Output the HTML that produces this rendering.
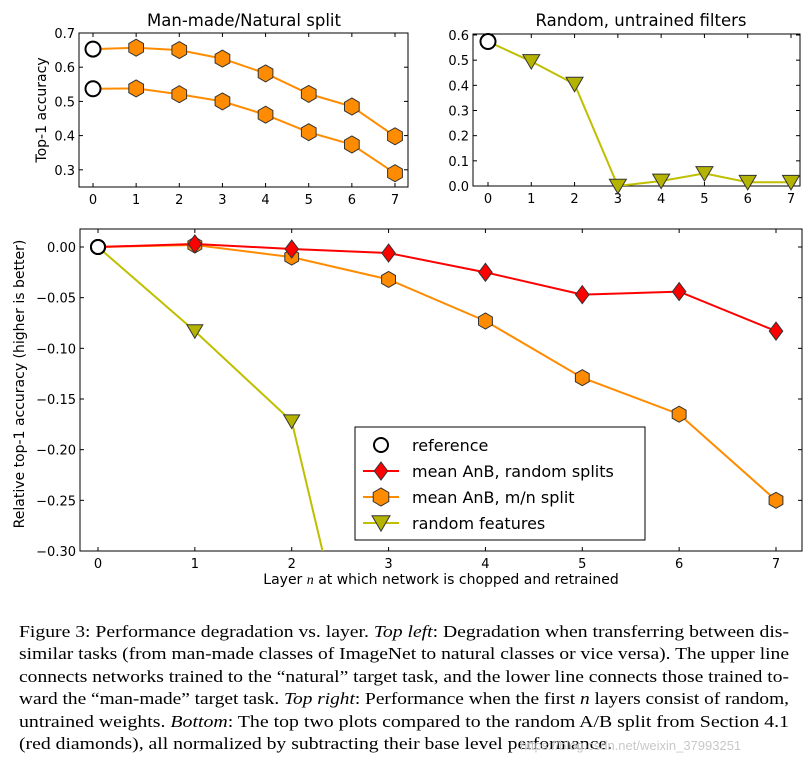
<!DOCTYPE html>
<html><head><meta charset="utf-8">
<style>
body{margin:0;background:#fff;width:808px;height:761px;overflow:hidden;}
svg text{font-family:"DejaVu Sans","Liberation Sans",sans-serif;}
#caption{position:absolute;left:19px;top:621px;width:770px;font-family:"Liberation Serif",serif;font-size:17.2px;line-height:22.4px;color:#000;}
#caption span.ln{display:block;width:max-content;white-space:nowrap;height:22.4px;transform-origin:0 0;}
</style></head><body>
<svg id="fig" width="808" height="610" style="position:absolute;left:0;top:0"></svg>
<div id="caption">
<span class="ln">Figure 3: Performance degradation vs. layer. <i>Top left</i>: Degradation when transferring between dis-</span>
<span class="ln">similar tasks (from man-made classes of ImageNet to natural classes or vice versa). The upper line</span>
<span class="ln">connects networks trained to the “natural” target task, and the lower line connects those trained to-</span>
<span class="ln">ward the “man-made” target task. <i>Top right</i>: Performance when the first <i>n</i> layers consist of random,</span>
<span class="ln">untrained weights. <i>Bottom</i>: The top two plots compared to the random A/B split from Section 4.1</span>
<span class="ln last">(red diamonds), all normalized by subtracting their base level performance.</span>
</div>
<div style="position:absolute;left:520px;top:738px;font-family:'Liberation Sans',sans-serif;font-size:13px;color:#c8c8c8">https://blog.csdn.net/weixin_37993251</div>
<script>
document.querySelectorAll('#caption span.ln').forEach(s=>{
  const w=s.getBoundingClientRect().width;
  const k=s.classList.contains('last')?593/w:770/w;
  s.style.transform='scaleX('+k+')';
});
const layers=[0,1,2,3,4,5,6,7];
const tlUpper=[0.653,0.657,0.650,0.625,0.582,0.522,0.485,0.398];
const tlLower=[0.537,0.538,0.521,0.500,0.461,0.410,0.374,0.290];
const tlTicks=[0.3,0.4,0.5,0.6,0.7];
const trRandom=[0.574,0.495,0.405,0.0,0.02,0.05,0.015,0.015];
const trTicks=[0.0,0.1,0.2,0.3,0.4,0.5,0.6];
const bRed=[0,0.003,-0.002,-0.006,-0.025,-0.047,-0.044,-0.083];
const bOrange=[0,0.002,-0.010,-0.032,-0.073,-0.129,-0.165,-0.250];
const bYellow=[0,-0.083,-0.172,-0.574,-0.554,-0.524,-0.559,-0.559];
const bTicks=[0.00,-0.05,-0.10,-0.15,-0.20,-0.25,-0.30];
const legendLabels=["reference","mean AnB, random splits","mean AnB, m/n split","random features"];

const NS="http://www.w3.org/2000/svg";
const svg=document.getElementById('fig');
function el(tag,attrs,parent){const e=document.createElementNS(NS,tag);for(const k in attrs)e.setAttribute(k,attrs[k]);(parent||svg).appendChild(e);return e;}
const OR="#ff8c00",RED="#ff0000",YL="#bfbf00";
function marker(g,type,x,y,r){
  let m;
  if(type==='circle'){m=el('circle',{cx:x,cy:y,r:r,fill:'#fff',stroke:'#000','stroke-width':2},g);}
  else if(type==='hex'){let p=[];for(let i=0;i<6;i++){const a=Math.PI/6+i*Math.PI/3;p.push((x+r*Math.cos(a)).toFixed(1)+','+(y+r*Math.sin(a)).toFixed(1));}
    m=el('polygon',{points:p.join(' '),fill:OR,stroke:'#333','stroke-width':1},g);}
  else if(type==='diamond'){m=el('polygon',{points:`${x},${y-r} ${x+r*0.75},${y} ${x},${y+r} ${x-r*0.75},${y}`,fill:RED,stroke:'#333','stroke-width':1},g);}
  else {m=el('polygon',{points:`${x-r},${y-r*0.8} ${x+r},${y-r*0.8} ${x},${y+r*0.9}`,fill:'#b3b300',stroke:'#333','stroke-width':1},g);}
  
  
  return m;
}
function axesBox(name,L,T,R,B,xs,ys,yTicks,fmt,xTicks){
  const g=el('g',{});
  
  
  const clip=el('clipPath',{id:name+'-clip'},g);el('rect',{x:L,y:T,width:R-L,height:B-T},clip);
  el('rect',{x:L,y:T,width:R-L,height:B-T,fill:'none',stroke:'#000','stroke-width':1},g);
  xTicks.forEach(v=>{const x=xs(v);
    el('line',{x1:x,y1:B,x2:x,y2:B-4,stroke:'#000'},g);el('line',{x1:x,y1:T,x2:x,y2:T+4,stroke:'#000'},g);
    const t=el('text',{x:x,y:B+17,'text-anchor':'middle','font-size':13},g);t.textContent=v;
    });
  yTicks.forEach(v=>{const y=ys(v);
    el('line',{x1:L,y1:y,x2:L+4,y2:y,stroke:'#000'},g);el('line',{x1:R,y1:y,x2:R-4,y2:y,stroke:'#000'},g);
    const t=el('text',{x:L-4,y:y+5,'text-anchor':'end','font-size':13},g);t.textContent=fmt(v);
    });
  return g;
}
function series(g,clipId,xs,ys,xv,yv,color,type,r,skipFirst,refR){
  const pts=xv.map((v,i)=>xs(v)+','+ys(yv[i])).join(' ');
  const pl=el('polyline',{points:pts,fill:'none',stroke:color,'stroke-width':2,'clip-path':`url(#${clipId})`},g);
  
  
  xv.forEach((v,i)=>{const x=xs(v),y=ys(yv[i]);
    if(i===0&&skipFirst){marker(g,'circle',x,y,refR);return;}
    if(y>=0&&y<=700&&(!clipId.startsWith('bottom')||y<=552))marker(g,type,x,y,r);});
}
// Top-left
{const L=79,T=33,R=408,B=187;const xs=v=>93+v*(395-93)/7;const ys=v=>33+(0.7-v)*342;
 const g=axesBox('top-left-plot',L,T,R,B,xs,ys,tlTicks,v=>v.toFixed(1),layers);
 series(g,'top-left-plot-clip',xs,ys,layers,tlUpper,OR,'hex',8.5,true,7.5);
 series(g,'top-left-plot-clip',xs,ys,layers,tlLower,OR,'hex',8.5,true,7.5);
 const t=el('text',{x:244,y:26,'text-anchor':'middle','font-size':16.5},g);t.textContent='Man-made/Natural split';
 const yl=el('text',{x:0,y:0,'text-anchor':'middle','font-size':14,transform:'translate(46,110) rotate(-90)'},g);yl.textContent='Top-1 accuracy';}
// Top-right
{const L=473,T=34,R=800,B=186;const xs=v=>488+v*(791-488)/7;const ys=v=>186-v*(186-35)/0.6;
 const g=axesBox('top-right-plot',L,T,R,B,xs,ys,trTicks,v=>v.toFixed(1),layers);
 series(g,'top-right-plot-clip',xs,ys,layers,trRandom,YL,'tri',8.5,true,7.5);
 const t=el('text',{x:641,y:26,'text-anchor':'middle','font-size':16.5},g);t.textContent='Random, untrained filters';}
// Bottom
{const L=80,T=229,R=802,B=551;const xs=v=>98+v*(776-98)/7;const ys=v=>247+(-v)*(551-247)/0.3;
 const g=axesBox('bottom-plot',L,T,R,B,xs,ys,bTicks,v=>(v<0?'\u22120':'0')+Math.abs(v).toFixed(2).slice(1),layers);
 series(g,'bottom-plot-clip',xs,ys,layers,bYellow,YL,'tri',8,true,7);
 series(g,'bottom-plot-clip',xs,ys,layers,bOrange,OR,'hex',8,true,7);
 series(g,'bottom-plot-clip',xs,ys,layers,bRed,RED,'diamond',9,true,7);
 marker(g,'circle',xs(0),ys(0),7);
 const xl=el('text',{x:441,y:584,'text-anchor':'middle','font-size':14},g);xl.innerHTML='Layer <tspan font-style="italic" font-family="Liberation Serif">n</tspan> at which network is chopped and retrained';
 const yl=el('text',{x:0,y:0,'text-anchor':'middle','font-size':14,transform:'translate(24,384) rotate(-90)'},g);yl.textContent='Relative top-1 accuracy (higher is better)';
 const lg=el('g',{},g);
 el('rect',{x:355,y:427,width:290,height:113,fill:'#fff',stroke:'#000'},lg);
 const types=['circle','diamond','hex','tri'],cols=[null,RED,OR,YL];
 legendLabels.forEach((lab,i)=>{const y=445+i*26;
   if(cols[i])el('line',{x1:363,y1:y,x2:399,y2:y,stroke:cols[i],'stroke-width':2},lg);
   marker(lg,types[i],381,y,types[i]==='circle'?7:9);
   const t=el('text',{x:412,y:y+6,'font-size':16},lg);t.textContent=lab;
   });}
</script>
</body></html>
